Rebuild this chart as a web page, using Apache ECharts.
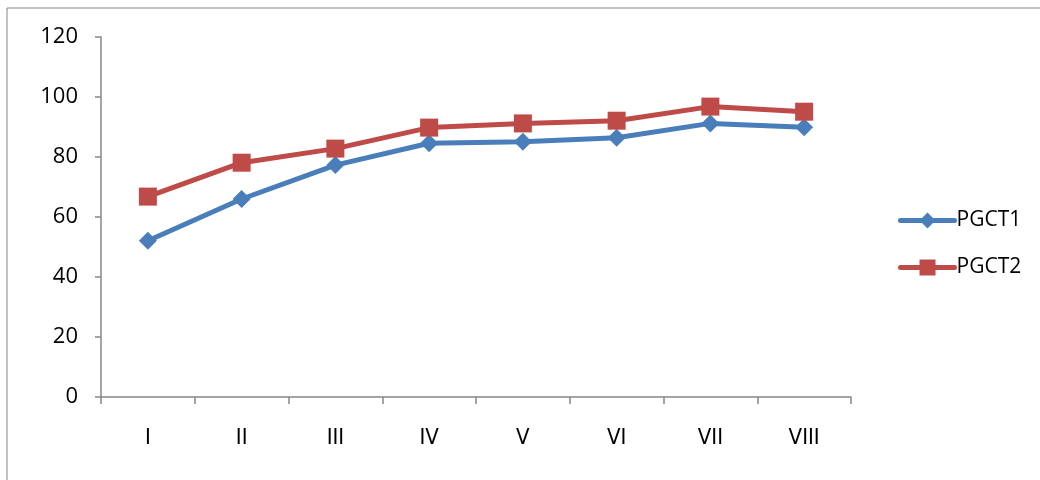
<!DOCTYPE html>
<html>
<head>
<meta charset="utf-8">
<script src="https://cdn.jsdelivr.net/npm/echarts@6/dist/echarts.min.js"></script>
<style>
  html, body {margin: 0; padding: 0; background: #fff;}
  #chart {width: 1040px; height: 480px;}
</style>
</head>
<body>
<div id="chart"></div>
<script>
// categories and values
const categories = ['I', 'II', 'III', 'IV', 'V', 'VI', 'VII', 'VIII'];
const pgct1 = [52.1, 66, 77.3, 84.6, 85.1, 86.4, 91.2, 89.9];
const pgct2 = [66.8, 78.1, 82.8, 89.8, 91.2, 92.1, 96.8, 95.1];
const yTicks = [0, 20, 40, 60, 80, 100, 120];

const axisGrey = '#868686';
const font = '"Open Sans", "Noto Sans", sans-serif';
const narrowFont = '"Liberation Sans Narrow", "DejaVu Sans Condensed", "Liberation Sans", sans-serif';

const chart = echarts.init(document.getElementById('chart'), null, {renderer: 'canvas'});

chart.setOption({
    animation: false,
    backgroundColor: '#fff',
    graphic: [
        // outer chart frame (only top and left edges are visible)
        {type: 'line', shape: {x1: 7, y1: 8, x2: 1040, y2: 8}, style: {stroke: axisGrey, lineWidth: 1}},
        {type: 'line', shape: {x1: 7, y1: 8, x2: 7, y2: 480}, style: {stroke: axisGrey, lineWidth: 1}}
    ],
    grid: {left: 101, right: 189, top: 37, bottom: 83, containLabel: false},
    legend: {
        orient: 'vertical',
        left: 893,
        top: 205,
        itemWidth: 54,
        itemHeight: 20,
        itemGap: 26,
        lineStyle: {width: 5, cap: 'round'},
        textStyle: {fontFamily: font, fontSize: 21, color: '#000', padding: [0, 0, 0, -3]},
        data: ['PGCT1', 'PGCT2']
    },
    xAxis: {
        type: 'category',
        data: categories,
        boundaryGap: true,
        axisLine: {lineStyle: {color: axisGrey, width: 1.5}},
        axisTick: {show: true, length: 7, lineStyle: {color: axisGrey, width: 1.5}},
        axisLabel: {margin: 30, fontFamily: narrowFont, fontSize: 22, color: '#000'},
        splitLine: {show: false}
    },
    yAxis: {
        type: 'value',
        min: 0,
        max: 120,
        interval: 20,
        axisLine: {show: true, lineStyle: {color: axisGrey, width: 1.5}},
        axisTick: {show: true, length: 6, lineStyle: {color: axisGrey, width: 1.5}},
        axisLabel: {
            margin: 23,
            fontFamily: font,
            fontSize: 22,
            color: '#000',
            formatter: v => yTicks.includes(v) ? String(v) : ''
        },
        splitLine: {show: false}
    },
    series: [
        {
            name: 'PGCT1',
            type: 'line',
            data: pgct1,
            symbol: 'diamond',
            symbolSize: 18,
            lineStyle: {color: '#4A7EBB', width: 5},
            itemStyle: {color: '#4A7EBB'}
        },
        {
            name: 'PGCT2',
            type: 'line',
            data: pgct2,
            symbol: 'rect',
            symbolSize: 18,
            lineStyle: {color: '#BE4B48', width: 5},
            itemStyle: {color: '#BE4B48'}
        }
    ]
});
</script>
</body>
</html>
